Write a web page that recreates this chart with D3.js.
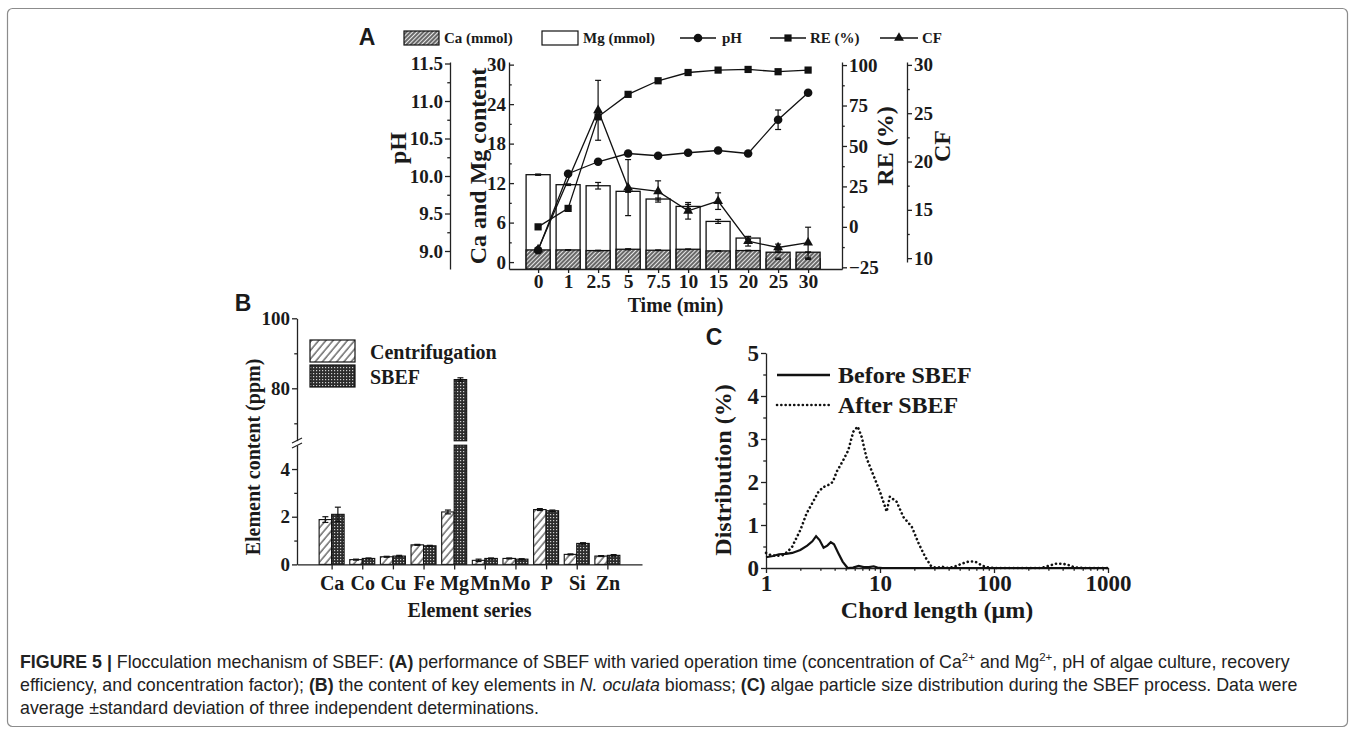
<!DOCTYPE html>
<html><head><meta charset="utf-8">
<script src="https://cdn.jsdelivr.net/npm/d3@7/dist/d3.min.js"></script>
<style>
html,body{margin:0;padding:0;background:#fff;}
svg{display:block;}
.serif{font-family:"Liberation Serif","Times New Roman",serif;font-weight:bold;fill:#1a1a1a;}
.sansb{font-family:"Liberation Sans",Arial,sans-serif;font-weight:bold;fill:#1a1a1a;}
.sans{font-family:"Liberation Sans",Arial,sans-serif;fill:#222;}
.axis path,.axis line{stroke:#222;stroke-width:1.3;}
.axis text{font-family:"Liberation Serif","Times New Roman",serif;font-weight:bold;fill:#1a1a1a;}
</style></head><body>
<svg id="chart" width="1355" height="732"></svg>
<script>
// ---------- Panel A data ----------
const timeLabels = ["0","1","2.5","5","7.5","10","15","20","25","30"];
const caValues = [1.85,1.85,1.75,1.95,1.8,1.95,1.7,1.75,1.5,1.5];
const caErr    = [0.05,0.05,0.05,0.08,0.05,0.05,0.05,0.05,0.05,0.05];
const mgValues = [13.28,11.76,11.6,10.75,9.58,8.46,6.18,3.65,0.5,0.5];
const mgErr    = [0.1,0.12,0.5,0.15,0.15,0.3,0.3,0.2,0.1,0.1];
const phValues = [9.01,10.03,10.19,10.3,10.27,10.31,10.34,10.3,10.75,11.11];
const phErr    = [0.02,0.02,0.03,0.02,0.02,0.02,0.02,0.02,0.13,0.03];
const reValues = [0,11.4,68,81.9,90.3,95.4,96.9,97.3,95.9,96.9];
const reErr    = [0.5,0.8,0.8,0.5,0.5,0.5,0.5,0.5,0.5,0.5];
const cfValues = [10.9,null,25.3,17.3,16.9,14.9,15.9,11.75,11.1,11.6];
const cfErr    = [0.1,null,3.1,2.9,1.1,0.86,0.86,0.5,0.35,1.6];
const phTicks = [9,9.5,10,10.5,11,11.5];
const caMgTicks = [0,6,12,18,24,30];
const reTicks = [-25,0,25,50,75,100];
const cfTicks = [10,15,20,25,30];

// ---------- Panel B data ----------
const elements = ["Ca","Co","Cu","Fe","Mg","Mn","Mo","P","Si","Zn"];
const centrifugation    = [1.88,0.2,0.32,0.82,2.2,0.17,0.25,2.3,0.42,0.35];
const centrifugationErr = [0.12,0.02,0.02,0.02,0.08,0.05,0.02,0.04,0.02,0.02];
const sbef    = [2.1,0.25,0.35,0.78,82.5,0.25,0.22,2.25,0.88,0.38];
const sbefErr = [0.3,0.02,0.03,0.02,0.5,0.02,0.02,0.03,0.03,0.03];
const bLowTicks = [0,2,4];
const bUpTicks = [80,100];

// ---------- Panel C data ----------
const beforeX = [1,1.15,1.3,1.5,1.7,2.0,2.3,2.55,2.75,2.95,3.2,3.45,3.7,3.95,4.3,4.7,5.2,5.8,6.5,7.2,8,8.8,9.5,10.5,20,50,100,200,500,1000];
const beforeY = [0.25,0.28,0.32,0.33,0.35,0.42,0.52,0.62,0.74,0.65,0.47,0.52,0.6,0.55,0.35,0.15,0,0.01,0.05,0.02,0.02,0.04,0.01,0,0,0,0,0,0,0];
const afterX = [1,1.1,1.25,1.4,1.55,1.7,1.85,2.0,2.27,2.6,2.88,3.18,3.52,3.85,4.17,4.77,5.27,5.83,6.37,6.9,7.64,8.74,10,11.06,11.45,12.2,14,16,19,22,25,28,31,35,40,45,52,60,68,76,85,100,150,200,260,300,350,400,450,500,600,1000];
const afterY = [0.35,0.3,0.28,0.3,0.38,0.5,0.7,0.88,1.27,1.55,1.77,1.88,1.93,2.0,2.24,2.51,2.74,3.17,3.29,3.05,2.55,2.16,1.77,1.43,1.31,1.66,1.54,1.19,0.96,0.55,0.25,0.05,0,0.03,0,0.03,0.1,0.15,0.15,0.08,0.02,0,0,0,0,0.05,0.1,0.1,0.07,0.02,0,0];
const cYTicks = [0,1,2,3,4,5];
const cXTicks = [1,10,100,1000];

const svg = d3.select("#chart");
const defs = svg.append("defs");
const pA = defs.append("pattern").attr("id","hatchA").attr("patternUnits","userSpaceOnUse")
  .attr("width",3).attr("height",3).attr("patternTransform","rotate(45)");
pA.append("rect").attr("width",3).attr("height",3).attr("fill","#e6e6e6");
pA.append("line").attr("x1",1).attr("y1",0).attr("x2",1).attr("y2",3).attr("stroke","#333").attr("stroke-width",1.4);
const pC = defs.append("pattern").attr("id","hatchC").attr("patternUnits","userSpaceOnUse")
  .attr("width",5.5).attr("height",5.5).attr("patternTransform","rotate(40)");
pC.append("rect").attr("width",5.5).attr("height",5.5).attr("fill","#fff");
pC.append("line").attr("x1",1).attr("y1",0).attr("x2",1).attr("y2",5.5).attr("stroke","#222").attr("stroke-width",1);
const pS = defs.append("pattern").attr("id","meshS").attr("patternUnits","userSpaceOnUse")
  .attr("width",3).attr("height",3);
pS.append("rect").attr("width",3).attr("height",3).attr("fill","#2c2c2c");
pS.append("rect").attr("x",1).attr("y",1).attr("width",1.2).attr("height",1.2).attr("fill","#d0d0d0");

svg.append("rect").attr("x",7.5).attr("y",8.5).attr("width",1340).attr("height",718).attr("rx",5)
  .attr("fill","none").attr("stroke","#8c8c8c").attr("stroke-width",1.2);

function axis(gen, scale, tx, ty, majors, minors, fmt, fs, inner, pad){
  const g = svg.append("g").attr("class","axis").attr("transform",`translate(${tx},${ty})`);
  g.call(gen(scale).tickValues(majors).tickFormat(fmt).tickSizeInner(inner).tickSizeOuter(0).tickPadding(pad));
  g.selectAll("text").style("font-size",fs+"px");
  if(minors && minors.length){
    const m = svg.append("g").attr("class","axis").attr("transform",`translate(${tx},${ty})`);
    m.call(gen(scale).tickValues(minors).tickFormat("").tickSizeInner(inner*0.55).tickSizeOuter(0));
    m.select(".domain").remove();
  }
  return g;
}
function label(x,y,txt,fs,rot,cls,anchor){
  const t = svg.append("text").attr("class",cls||"serif").attr("font-size",fs)
    .attr("text-anchor",anchor||"middle").attr("dominant-baseline","central").text(txt);
  if(rot) t.attr("transform",`translate(${x},${y}) rotate(${rot})`); else t.attr("x",x).attr("y",y);
  return t;
}
function errBar(g,x,lo,hi,cap){
  g.append("line").attr("x1",x).attr("x2",x).attr("y1",lo).attr("y2",hi).attr("stroke","#111").attr("stroke-width",1.2);
  g.append("line").attr("x1",x-cap).attr("x2",x+cap).attr("y1",lo).attr("y2",lo).attr("stroke","#111").attr("stroke-width",1.2);
  g.append("line").attr("x1",x-cap).attr("x2",x+cap).attr("y1",hi).attr("y2",hi).attr("stroke","#111").attr("stroke-width",1.2);
}

// ================= PANEL A =================
const xA = d3.scaleLinear().domain([-0.97,10.13]).range([509,842]);
const yCM = d3.scaleLinear().domain([-1.05,30.4]).range([269,62]);
const yPH = d3.scaleLinear().domain([8.76,11.52]).range([269,62]);
const yRE = d3.scaleLinear().domain([-26.05,101.9]).range([269,62]);
const yCF = d3.scaleLinear().domain([9.6,30.3]).range([262,62]);
const idx = d3.range(timeLabels.length);

const gA = svg.append("g");
const bw = 24;
gA.selectAll(".mg").data(idx).join("rect")
  .attr("x",i=>xA(i)-bw/2).attr("width",bw)
  .attr("y",i=>yCM(mgValues[i])).attr("height",i=>yCM.range()[0]-yCM(mgValues[i]))
  .attr("fill","#fff").attr("stroke","#111").attr("stroke-width",1.3);
gA.selectAll(".ca").data(idx).join("rect")
  .attr("x",i=>xA(i)-bw/2).attr("width",bw)
  .attr("y",i=>yCM(caValues[i])).attr("height",i=>yCM.range()[0]-yCM(caValues[i]))
  .attr("fill","url(#hatchA)").attr("stroke","#111").attr("stroke-width",1.3);
idx.forEach(i=>{
  errBar(gA,xA(i),yCM(mgValues[i]-mgErr[i]),yCM(mgValues[i]+mgErr[i]),3);
  errBar(gA,xA(i),yCM(caValues[i]-caErr[i]),yCM(caValues[i]+caErr[i]),3);
});

axis(d3.axisLeft, yPH, 450, 0, phTicks, d3.range(9,11.5,0.25).filter(v=>Math.abs(v*2-Math.round(v*2))>0.01), d3.format(".1f"), 19, 5, 2);
axis(d3.axisLeft, yCM, 509, 0, caMgTicks, [3,9,15,21,27], d3.format("d"), 19, -5, 3);
axis(d3.axisRight, yRE, 842, 0, reTicks, [-12.5,12.5,37.5,62.5,87.5], d3.format("d"), 19, 5, 2);
axis(d3.axisRight, yCF, 907, 0, cfTicks, [12.5,17.5,22.5,27.5], d3.format("d"), 19, 5, 2);
axis(d3.axisBottom, xA, 0, 269, idx, [], i=>timeLabels[i], 19.5, 4, 1);

function series(vals, yS){ return idx.filter(i=>vals[i]!==null).map(i=>[xA(i), yS(vals[i])]); }
const lineGen = d3.line();
gA.append("path").attr("d",lineGen(series(phValues,yPH))).attr("fill","none").attr("stroke","#111").attr("stroke-width",1.3);
gA.append("path").attr("d",lineGen(series(reValues,yRE))).attr("fill","none").attr("stroke","#111").attr("stroke-width",1.3);
gA.append("path").attr("d",lineGen(series(cfValues,yCF))).attr("fill","none").attr("stroke","#111").attr("stroke-width",1.3);
idx.forEach(i=>{
  errBar(gA,xA(i),yPH(phValues[i]-phErr[i]),yPH(phValues[i]+phErr[i]),3);
  errBar(gA,xA(i),yRE(reValues[i]-reErr[i]),yRE(reValues[i]+reErr[i]),3);
  if(cfValues[i]!==null) errBar(gA,xA(i),yCF(cfValues[i]-cfErr[i]),yCF(cfValues[i]+cfErr[i]),3);
});
const symCircle = d3.symbol(d3.symbolCircle,58)();
const symSquare = d3.symbol(d3.symbolSquare,52)();
const symTri = d3.symbol(d3.symbolTriangle,42)();
idx.forEach(i=>{
  gA.append("path").attr("d",symCircle).attr("transform",`translate(${xA(i)},${yPH(phValues[i])})`).attr("fill","#111");
  gA.append("path").attr("d",symSquare).attr("transform",`translate(${xA(i)},${yRE(reValues[i])})`).attr("fill","#111");
  if(cfValues[i]!==null) gA.append("path").attr("d",symTri).attr("transform",`translate(${xA(i)},${yCF(cfValues[i])})`).attr("fill","#111");
});

label(367,37,"A",23,0,"sansb");
label(398,148,"pH",24,-90);
label(478,166,"Ca and Mg content",24,-90);
label(885,146,"RE (%)",24,-90);
label(942,146,"CF",24,-90);
label(675.5,305,"Time (min)",20);

const ly = 38;
svg.append("rect").attr("x",404).attr("y",ly-7).attr("width",35).attr("height",14).attr("fill","url(#hatchA)").attr("stroke","#111").attr("stroke-width",1.2);
label(444,ly,"Ca (mmol)",15,0,"serif","start");
svg.append("rect").attr("x",542).attr("y",ly-7).attr("width",36).attr("height",14).attr("fill","#fff").attr("stroke","#111").attr("stroke-width",1.2);
label(583,ly,"Mg (mmol)",15,0,"serif","start");
const legItems = [[680,716,symCircle,"pH",722],[770,806,symSquare,"RE (%)",810],[880,918,symTri,"CF",922]];
legItems.forEach(([a,b,s,t,tx])=>{
  svg.append("line").attr("x1",a).attr("x2",b).attr("y1",ly).attr("y2",ly).attr("stroke","#111").attr("stroke-width",1.3);
  svg.append("path").attr("d",s).attr("transform",`translate(${(a+b)/2},${ly})`).attr("fill","#111");
  label(tx,ly,t,15,0,"serif","start");
});

// ================= PANEL B =================
const xB = d3.scaleLinear().domain([-1.13,10.13]).range([297,642]);
const yBLow = d3.scaleLinear().domain([0,5]).range([564.4,445.2]);
const yBUp = d3.scaleLinear().domain([65,100]).range([440.8,318.3]);
const eIdx = d3.range(elements.length);
const gB = svg.append("g");
const bbw = 12.5;
function drawBBar(x, v, fill){
  const lowTop = Math.min(v,5);
  gB.append("rect").attr("x",x).attr("width",bbw).attr("y",yBLow(lowTop)).attr("height",yBLow(0)-yBLow(lowTop))
    .attr("fill",fill).attr("stroke","#111").attr("stroke-width",1.1);
  if(v>65){
    gB.append("rect").attr("x",x).attr("width",bbw).attr("y",yBUp(v)).attr("height",yBUp(65)-yBUp(v))
      .attr("fill",fill).attr("stroke","#111").attr("stroke-width",1.1);
  }
}
function yB(v){ return v>5 ? yBUp(v) : yBLow(v); }
eIdx.forEach(i=>{
  drawBBar(xB(i)-bbw, centrifugation[i], "url(#hatchC)");
  drawBBar(xB(i), sbef[i], "url(#meshS)");
});
eIdx.forEach(i=>{
  errBar(gB, xB(i)-bbw/2, yB(centrifugation[i]-centrifugationErr[i]), yB(centrifugation[i]+centrifugationErr[i]), 3);
  errBar(gB, xB(i)+bbw/2, yB(sbef[i]-sbefErr[i]), yB(sbef[i]+sbefErr[i]), 3);
});
axis(d3.axisLeft, yBLow, 297, 0, bLowTicks, [1,3], d3.format("d"), 19, 5, 2);
axis(d3.axisLeft, yBUp, 297, 0, bUpTicks, [70,90], d3.format("d"), 19, 5, 2);
axis(d3.axisBottom, xB, 0, 564.4, eIdx, [], i=>elements[i], 20, 5, 6);
svg.append("rect").attr("x",291).attr("y",441.5).attr("width",12).attr("height",3).attr("fill","#fff");
[440.5,445.5].forEach(yy=>svg.append("line").attr("x1",292).attr("x2",302).attr("y1",yy+2.5).attr("y2",yy-2.5).attr("stroke","#222").attr("stroke-width",1.2));

label(243,303,"B",23,0,"sansb");
label(253,457,"Element content (ppm)",20,-90);
label(469.5,610,"Element series",20);
svg.append("rect").attr("x",310).attr("y",340).attr("width",45).attr("height",22).attr("fill","url(#hatchC)").attr("stroke","#111").attr("stroke-width",1.2);
svg.append("rect").attr("x",310).attr("y",365).attr("width",45).attr("height",22).attr("fill","url(#meshS)").attr("stroke","#111").attr("stroke-width",1.2);
label(370,352,"Centrifugation",20,0,"serif","start");
label(370,377,"SBEF",20,0,"serif","start");

// ================= PANEL C =================
const xC = d3.scaleLog().domain([1,1000]).range([766,1108]);
const yC = d3.scaleLinear().domain([0,5]).range([568,353]);
const minorLog = [];
[1,10,100].forEach(d=>{ for(let k=2;k<10;k++) minorLog.push(d*k); });
axis(d3.axisLeft, yC, 766, 0, cYTicks, [0.5,1.5,2.5,3.5,4.5], d3.format("d"), 23, 5, 2);
axis(d3.axisBottom, xC, 0, 568, cXTicks, minorLog, d3.format("d"), 23, 5, 2);
const lineC = d3.line().x(d=>xC(d[0])).y(d=>yC(d[1]));
svg.append("path").attr("d",lineC(d3.zip(beforeX,beforeY))).attr("fill","none").attr("stroke","#111").attr("stroke-width",2.2);
svg.append("path").attr("d",lineC(d3.zip(afterX,afterY))).attr("fill","none").attr("stroke","#111").attr("stroke-width",2.6)
  .attr("stroke-dasharray","0.1 4.2").attr("stroke-linecap","round");
label(714,337,"C",23,0,"sansb");
label(723,470,"Distribution (%)",24,-90);
label(937,610,"Chord length (\u03bcm)",24);
svg.append("line").attr("x1",777).attr("x2",830).attr("y1",375).attr("y2",375).attr("stroke","#111").attr("stroke-width",2.4);
svg.append("line").attr("x1",777).attr("x2",830).attr("y1",405).attr("y2",405).attr("stroke","#111").attr("stroke-width",2.6)
  .attr("stroke-dasharray","0.1 4.2").attr("stroke-linecap","round");
label(838,375,"Before SBEF",24,0,"serif","start");
label(838,405,"After SBEF",24,0,"serif","start");

// ================= CAPTION =================
const capLines = [
  [["FIGURE 5 | ","b"],["Flocculation mechanism of SBEF: ",""],["(A)","b"],[" performance of SBEF with varied operation time (concentration of Ca",""],["2+","sup"],[" and Mg",""],["2+","sup"],[", pH of algae culture, recovery",""]],
  [["efficiency, and concentration factor); ",""],["(B)","b"],[" the content of key elements in ",""],["N. oculata","i"],[" biomass; ",""],["(C)","b"],[" algae particle size distribution during the SBEF process. Data were",""]],
  [["average \u00b1standard deviation of three independent determinations.",""]]
];
const capY = [668,691,714];
capLines.forEach((ln,li)=>{
  const t = svg.append("text").attr("class","sans").attr("x",20).attr("y",capY[li]).attr("font-size",17.8);
  let shifted = false;
  ln.forEach(([s,st])=>{
    const sp = t.append("tspan").text(s);
    if(st==="b") sp.attr("font-weight","bold");
    if(st==="i") sp.attr("font-style","italic");
    if(st==="sup"){ sp.attr("font-size",11.5).attr("dy",-7); shifted=true; }
    else if(shifted){ sp.attr("dy",7); shifted=false; }
  });
});
</script></body></html>
